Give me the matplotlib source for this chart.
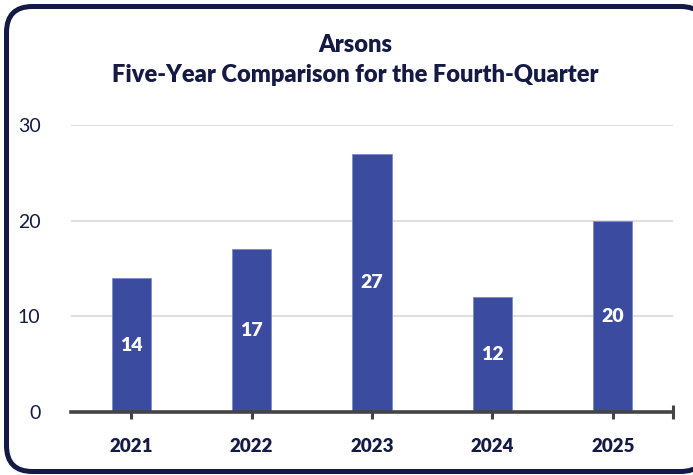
import matplotlib.pyplot as plt
from matplotlib.patches import FancyBboxPatch

years = ['2021', '2022', '2023', '2024', '2025']
arsons = [14, 17, 27, 12, 20]
y_ticks = [0, 10, 20, 30]

navy = '#141a44'
bar_color = '#3a4ba0'

plt.rcParams['font.family'] = ['Lato', 'DejaVu Sans']

fig = plt.figure(figsize=(6.93, 4.75), dpi=100)

# rounded outer frame (inches)
frame = FancyBboxPatch((0.065, 0.035), 7.0, 4.65,
                       boxstyle='round,pad=0,rounding_size=0.26',
                       transform=fig.dpi_scale_trans, facecolor='white',
                       edgecolor=navy, linewidth=3.6, zorder=-1)
fig.patches.append(frame)

ax = fig.add_axes([71 / 693, 1 - 412 / 475, 602 / 693, 287 / 475])
ax.set_facecolor('none')

x = list(range(len(years)))
bars = ax.bar(x, arsons, width=0.325, color=bar_color, edgecolor='#7f8cc8',
              linewidth=0.6, zorder=3)

for xi, v in zip(x, arsons):
    ax.text(xi, v / 2, str(v), ha='center', va='center', color='white',
            fontsize=14, fontweight='heavy', zorder=4)

ax.set_xlim(-0.5, 4.5)
ax.set_ylim(0, 30)
ax.set_yticks(y_ticks)
ax.set_yticklabels([str(t) for t in y_ticks], fontsize=14, color=navy)
ax.tick_params(axis='y', length=0, pad=22)
ax.yaxis.grid(True, color='#d9d9d9', linewidth=1.2, zorder=0)

ax.set_xticks(x + [4.5])
ax.set_xticklabels(years + [''], fontsize=13.5, fontweight='heavy', color=navy)
ax.tick_params(axis='x', direction='inout', length=10, width=2.2,
               color='#444444', pad=14)

for s in ['top', 'right', 'left']:
    ax.spines[s].set_visible(False)
ax.spines['bottom'].set_color('#444444')
ax.spines['bottom'].set_linewidth(2.6)
ax.spines['bottom'].set_zorder(5)

fig.text(0.513, 1 - 45 / 475, 'Arsons', ha='center', va='center',
         fontsize=17, fontweight='heavy', color=navy)
fig.text(0.513, 1 - 75 / 475, 'Five-Year Comparison for the Fourth-Quarter',
         ha='center', va='center', fontsize=17, fontweight='heavy', color=navy)

fig.savefig('out.png', dpi=100)
